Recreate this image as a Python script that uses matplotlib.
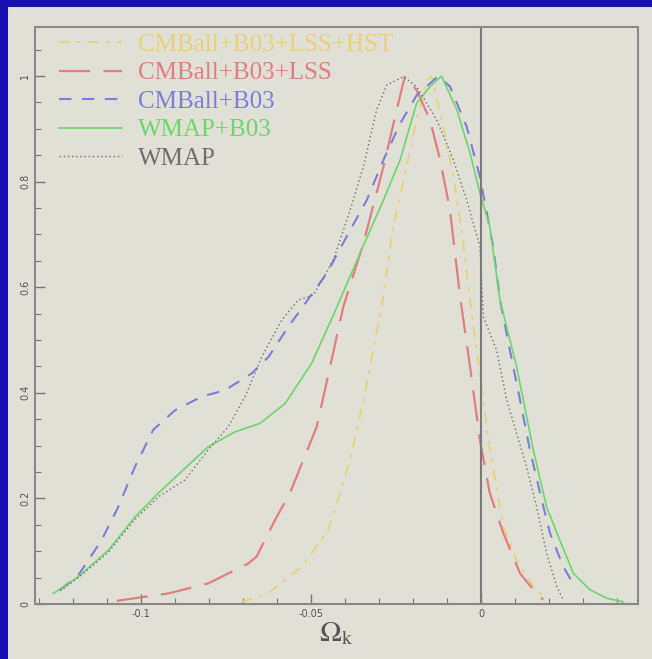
import matplotlib
matplotlib.use("Agg")
import matplotlib.pyplot as plt
from matplotlib.patches import Rectangle
from matplotlib.ticker import MultipleLocator

plt.rcParams["mathtext.fontset"] = "stix"

# marginalised likelihoods for Omega_k (normalised to peak = 1)
hst_x = [-0.0704, -0.063, -0.0527, -0.0449, -0.0385, -0.0346, -0.0317, -0.0292, -0.0258, -0.0219,
         -0.0189, -0.016, -0.0145, -0.0111, -0.0081, -0.0052, -0.0032, -0.0013, 0.0007, 0.0026,
         0.0066, 0.0105, 0.0154, 0.0193]
hst_y = [0.004, 0.018, 0.071, 0.14, 0.273, 0.386, 0.481, 0.563, 0.715, 0.828,
         0.917, 0.992, 1.0, 0.904, 0.809, 0.683, 0.576, 0.481, 0.386, 0.292,
         0.146, 0.083, 0.033, 0.008]

lss_x = [-0.1071, -0.092, -0.0802, -0.0684, -0.066, -0.0606, -0.0562, -0.0527, -0.0483, -0.0444,
         -0.0405, -0.0346, -0.0287, -0.0248, -0.0224, -0.0189, -0.015, -0.012, -0.0091, -0.0062,
         -0.0032, -0.0003, 0.0026, 0.0066, 0.0115, 0.0154, 0.0183]
lss_y = [0.006, 0.02, 0.039, 0.077, 0.09, 0.159, 0.21, 0.266, 0.336, 0.449,
         0.563, 0.683, 0.828, 0.936, 0.999, 0.973, 0.917, 0.841, 0.746, 0.585,
         0.449, 0.31, 0.21, 0.134, 0.058, 0.027, 0.008]

b03_x = [-0.1238, -0.1184, -0.1116, -0.1067, -0.1018, -0.0964, -0.09, -0.0821, -0.0753, -0.0674,
         -0.0625, -0.0567, -0.0532, -0.0454, -0.0385, -0.0336, -0.0287, -0.0238, -0.0189, -0.015,
         -0.0126, -0.0091, -0.0042, -0.0003, 0.0036, 0.0056, 0.0085, 0.0115, 0.0144, 0.0174,
         0.0203, 0.0242, 0.0276]
b03_y = [0.027, 0.055, 0.121, 0.184, 0.26, 0.33, 0.367, 0.393, 0.405, 0.437,
         0.468, 0.525, 0.556, 0.626, 0.708, 0.765, 0.841, 0.91, 0.964, 0.986,
         1.0, 0.98, 0.904, 0.809, 0.677, 0.576, 0.481, 0.386, 0.292, 0.21,
         0.134, 0.071, 0.033]

wb03_x = [-0.1258, -0.1184, -0.1096, -0.1018, -0.0949, -0.0871, -0.0802, -0.0724, -0.065, -0.0576,
          -0.0498, -0.0429, -0.0356, -0.0287, -0.0238, -0.0189, -0.015, -0.0116, -0.0071, -0.0032,
          -0.0003, 0.0026, 0.0056, 0.0105, 0.0154, 0.0193, 0.0232, 0.0272, 0.0321, 0.037, 0.0419]
wb03_y = [0.02, 0.052, 0.102, 0.165, 0.21, 0.257, 0.298, 0.326, 0.342, 0.38,
          0.456, 0.555, 0.664, 0.765, 0.841, 0.949, 0.98, 1.0, 0.936, 0.854,
          0.778, 0.715, 0.576, 0.449, 0.292, 0.184, 0.121, 0.058, 0.027, 0.011, 0.004]

wmap_x = [-0.1238, -0.1184, -0.1096, -0.1018, -0.0949, -0.0871, -0.0802, -0.0743, -0.0694, -0.0645,
          -0.0586, -0.0537, -0.0493, -0.0434, -0.0385, -0.0346, -0.0307, -0.0277, -0.0228, -0.0189,
          -0.013, -0.0081, -0.0042, -0.0003, 0.0007, 0.0046, 0.0076, 0.0105, 0.0134, 0.0164,
          0.0193, 0.0223, 0.0242]
wmap_y = [0.025, 0.05, 0.098, 0.16, 0.203, 0.235, 0.292, 0.336, 0.393, 0.468,
          0.538, 0.576, 0.585, 0.652, 0.746, 0.828, 0.936, 0.983, 0.999, 0.98,
          0.917, 0.841, 0.765, 0.677, 0.544, 0.481, 0.386, 0.323, 0.26, 0.184,
          0.096, 0.033, 0.008]

labels = ["CMBall+B03+LSS+HST", "CMBall+B03+LSS", "CMBall+B03", "WMAP+B03", "WMAP"]
colors = ["#e8cf7a", "#e07f82", "#7b7fd6", "#6fd66f", "#6e6e6e"]

page = "#e0e0d6"
fig = plt.figure(figsize=(6.52, 6.59), dpi=100, facecolor=page)
# slide border (left and top)
fig.patches.append(Rectangle((0, 0), 8 / 652, 1, transform=fig.transFigure,
                             facecolor="#1a10b0", edgecolor="none", zorder=0))
fig.patches.append(Rectangle((0, 1 - 7 / 659), 1, 7 / 659, transform=fig.transFigure,
                             facecolor="#1a10b0", edgecolor="none", zorder=0))

ax = fig.add_axes([35 / 652, 55 / 659, 603 / 652, 577 / 659])
ax.set_facecolor(page)

ax.plot(hst_x, hst_y, color=colors[0], lw=1.3, dashes=(6, 4, 2, 4), label=labels[0])
ax.plot(lss_x, lss_y, color=colors[1], lw=1.6, dashes=(14, 6), label=labels[1])
ax.plot(b03_x, b03_y, color=colors[2], lw=1.5, dashes=(6, 5), label=labels[2])
ax.plot(wb03_x, wb03_y, color=colors[3], lw=1.2, label=labels[3])
ax.plot(wmap_x, wmap_y, color=colors[4], lw=1.0, dashes=(1, 2), label=labels[4])

ax.axvline(0, color="#7a7a7a", lw=1.5)

ax.set_xlim(-0.1312, 0.0462)
ax.set_ylim(0, 1.093)
ax.set_xticks([-0.1, -0.05, 0])
ax.set_xticklabels(["-0.1", "-0.05", "0"])
ax.set_yticks([0, 0.2, 0.4, 0.6, 0.8, 1])
ax.set_yticklabels(["0", "0.2", "0.4", "0.6", "0.8", "1"], rotation=90, va="center")
ax.xaxis.set_minor_locator(MultipleLocator(0.01))
ax.yaxis.set_minor_locator(MultipleLocator(0.05))
ax.tick_params(which="both", direction="in", colors="#777777", labelcolor="#555555",
               labelsize=7, top=False, right=False)
ax.tick_params(which="major", length=7, width=1.0)
ax.tick_params(which="minor", length=4, width=0.8)
for s in ax.spines.values():
    s.set_color("#888888")
    s.set_linewidth(1.5)

ax.set_xlabel(r"$\Omega_{\rm k}$", fontsize=21, color="#555555", labelpad=0)

leg = ax.legend(loc="upper left", bbox_to_anchor=(0.04, 0.989), frameon=False,
                handlelength=2.5, handletextpad=0.65, labelspacing=0.24,
                borderaxespad=0, borderpad=0,
                prop={"family": "Liberation Serif", "size": 18})
for t, c in zip(leg.get_texts(), colors):
    t.set_color(c)

fig.savefig("out.png", dpi=100, facecolor=page)
